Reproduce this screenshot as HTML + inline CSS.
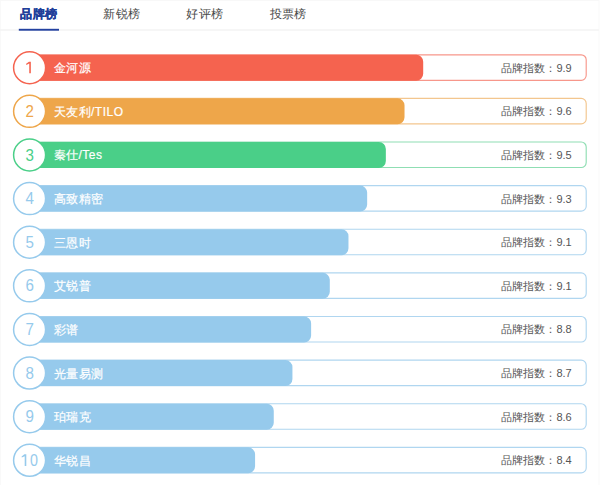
<!DOCTYPE html>
<html><head><meta charset="utf-8"><style>
html,body{margin:0;padding:0;background:#fff;}
body{width:600px;height:485px;position:relative;overflow:hidden;font-family:"Liberation Sans",sans-serif;}
svg{position:absolute;left:0;top:0;}
svg text{font-family:"Liberation Sans",sans-serif;}
</style></head><body>
<svg width="600" height="485" viewBox="0 0 600 485">
<rect x="0" y="0" width="1" height="485" fill="#f9f9f9"/>
<rect x="598.5" y="0" width="1" height="485" fill="#f9f9f9"/>
<rect x="0" y="0" width="599" height="1" fill="#f8f8f8"/>
<rect x="0" y="29.2" width="599" height="1.6" fill="#f4f4f4"/>
<rect x="18.8" y="28.8" width="40.2" height="1.9" fill="#2341a0"/>
<text x="20.3" y="18.3" font-size="12" letter-spacing="0.3" font-weight="bold" fill="#213f99" stroke="#213f99" stroke-width="0.3">品牌榜</text>
<text x="103.3" y="18.3" font-size="12" letter-spacing="0.3" fill="#484848">新锐榜</text>
<text x="186.3" y="18.3" font-size="12" letter-spacing="0.3" fill="#484848">好评榜</text>
<text x="269.8" y="18.3" font-size="12" letter-spacing="0.3" fill="#484848">投票榜</text>

<rect x="29" y="54.80" width="557.2" height="25.5" rx="5" fill="none" stroke="#f7978b" stroke-width="1.15"/>
<path d="M29 54.75 H416.20 A7 7 0 0 1 423.20 61.75 V73.75 A7 7 0 0 1 416.20 80.75 H29 Z" fill="#f5634f"/>
<circle cx="29.6" cy="67.75" r="16.0" fill="#fff" stroke="#f5634f" stroke-width="1.5"/>
<path d="M30.85 61.65 V73.35 H29.25 V63.55 L26.35 64.95 L26.15 63.85 L28.95 61.65 Z" fill="#f5634f"/>
<text x="53.5" y="72.25" font-size="12" letter-spacing="0.5" fill="#fff" stroke="#fff" stroke-width="0.2">金河源</text>
<text x="571.7" y="71.65" font-size="11" text-anchor="end" fill="#555">品牌指数：9.9</text>
<rect x="29" y="98.42" width="557.2" height="25.5" rx="5" fill="none" stroke="#f3c68e" stroke-width="1.15"/>
<path d="M29 98.37 H397.52 A7 7 0 0 1 404.52 105.37 V117.37 A7 7 0 0 1 397.52 124.37 H29 Z" fill="#eea64a"/>
<circle cx="29.6" cy="111.37" r="16.0" fill="#fff" stroke="#eea64a" stroke-width="1.5"/>
<text transform="translate(29.6 116.97) scale(0.9 1)" x="0" y="0" font-size="16.8" text-anchor="middle" fill="#eea64a">2</text>
<text x="53.5" y="115.87" font-size="12" letter-spacing="0.5" fill="#fff" stroke="#fff" stroke-width="0.2">天友利/TILO</text>
<text x="571.7" y="115.27" font-size="11" text-anchor="end" fill="#555">品牌指数：9.6</text>
<rect x="29" y="142.04" width="557.2" height="25.5" rx="5" fill="none" stroke="#8fdeb3" stroke-width="1.15"/>
<path d="M29 141.99 H378.84 A7 7 0 0 1 385.84 148.99 V160.99 A7 7 0 0 1 378.84 167.99 H29 Z" fill="#4acf88"/>
<circle cx="29.6" cy="154.99" r="16.0" fill="#fff" stroke="#4acf88" stroke-width="1.5"/>
<text transform="translate(29.6 160.59) scale(0.9 1)" x="0" y="0" font-size="16.8" text-anchor="middle" fill="#4acf88">3</text>
<text x="53.5" y="159.49" font-size="12" letter-spacing="0.5" fill="#fff" stroke="#fff" stroke-width="0.2">秦仕/Tes</text>
<text x="571.7" y="158.89" font-size="11" text-anchor="end" fill="#555">品牌指数：9.5</text>
<rect x="29" y="185.66" width="557.2" height="25.5" rx="5" fill="none" stroke="#b0d6f0" stroke-width="1.15"/>
<path d="M29 185.61 H360.16 A7 7 0 0 1 367.16 192.61 V204.61 A7 7 0 0 1 360.16 211.61 H29 Z" fill="#96caec"/>
<circle cx="29.6" cy="198.61" r="16.0" fill="#fff" stroke="#96caec" stroke-width="1.5"/>
<text transform="translate(29.6 204.21) scale(0.9 1)" x="0" y="0" font-size="16.8" text-anchor="middle" fill="#96caec">4</text>
<text x="53.5" y="203.11" font-size="12" letter-spacing="0.5" fill="#fff" stroke="#fff" stroke-width="0.2">高致精密</text>
<text x="571.7" y="202.51" font-size="11" text-anchor="end" fill="#555">品牌指数：9.3</text>
<rect x="29" y="229.28" width="557.2" height="25.5" rx="5" fill="none" stroke="#b0d6f0" stroke-width="1.15"/>
<path d="M29 229.23 H341.48 A7 7 0 0 1 348.48 236.23 V248.23 A7 7 0 0 1 341.48 255.23 H29 Z" fill="#96caec"/>
<circle cx="29.6" cy="242.23" r="16.0" fill="#fff" stroke="#96caec" stroke-width="1.5"/>
<text transform="translate(29.6 247.83) scale(0.9 1)" x="0" y="0" font-size="16.8" text-anchor="middle" fill="#96caec">5</text>
<text x="53.5" y="246.73" font-size="12" letter-spacing="0.5" fill="#fff" stroke="#fff" stroke-width="0.2">三恩时</text>
<text x="571.7" y="246.13" font-size="11" text-anchor="end" fill="#555">品牌指数：9.1</text>
<rect x="29" y="272.90" width="557.2" height="25.5" rx="5" fill="none" stroke="#b0d6f0" stroke-width="1.15"/>
<path d="M29 272.85 H322.80 A7 7 0 0 1 329.80 279.85 V291.85 A7 7 0 0 1 322.80 298.85 H29 Z" fill="#96caec"/>
<circle cx="29.6" cy="285.85" r="16.0" fill="#fff" stroke="#96caec" stroke-width="1.5"/>
<text transform="translate(29.6 291.45) scale(0.9 1)" x="0" y="0" font-size="16.8" text-anchor="middle" fill="#96caec">6</text>
<text x="53.5" y="290.35" font-size="12" letter-spacing="0.5" fill="#fff" stroke="#fff" stroke-width="0.2">艾锐普</text>
<text x="571.7" y="289.75" font-size="11" text-anchor="end" fill="#555">品牌指数：9.1</text>
<rect x="29" y="316.52" width="557.2" height="25.5" rx="5" fill="none" stroke="#b0d6f0" stroke-width="1.15"/>
<path d="M29 316.47 H304.12 A7 7 0 0 1 311.12 323.47 V335.47 A7 7 0 0 1 304.12 342.47 H29 Z" fill="#96caec"/>
<circle cx="29.6" cy="329.47" r="16.0" fill="#fff" stroke="#96caec" stroke-width="1.5"/>
<text transform="translate(29.6 335.07) scale(0.9 1)" x="0" y="0" font-size="16.8" text-anchor="middle" fill="#96caec">7</text>
<text x="53.5" y="333.97" font-size="12" letter-spacing="0.5" fill="#fff" stroke="#fff" stroke-width="0.2">彩谱</text>
<text x="571.7" y="333.37" font-size="11" text-anchor="end" fill="#555">品牌指数：8.8</text>
<rect x="29" y="360.14" width="557.2" height="25.5" rx="5" fill="none" stroke="#b0d6f0" stroke-width="1.15"/>
<path d="M29 360.09 H285.44 A7 7 0 0 1 292.44 367.09 V379.09 A7 7 0 0 1 285.44 386.09 H29 Z" fill="#96caec"/>
<circle cx="29.6" cy="373.09" r="16.0" fill="#fff" stroke="#96caec" stroke-width="1.5"/>
<text transform="translate(29.6 378.69) scale(0.9 1)" x="0" y="0" font-size="16.8" text-anchor="middle" fill="#96caec">8</text>
<text x="53.5" y="377.59" font-size="12" letter-spacing="0.5" fill="#fff" stroke="#fff" stroke-width="0.2">光量易测</text>
<text x="571.7" y="376.99" font-size="11" text-anchor="end" fill="#555">品牌指数：8.7</text>
<rect x="29" y="403.76" width="557.2" height="25.5" rx="5" fill="none" stroke="#b0d6f0" stroke-width="1.15"/>
<path d="M29 403.71 H266.76 A7 7 0 0 1 273.76 410.71 V422.71 A7 7 0 0 1 266.76 429.71 H29 Z" fill="#96caec"/>
<circle cx="29.6" cy="416.71" r="16.0" fill="#fff" stroke="#96caec" stroke-width="1.5"/>
<text transform="translate(29.6 422.31) scale(0.9 1)" x="0" y="0" font-size="16.8" text-anchor="middle" fill="#96caec">9</text>
<text x="53.5" y="421.21" font-size="12" letter-spacing="0.5" fill="#fff" stroke="#fff" stroke-width="0.2">珀瑞克</text>
<text x="571.7" y="420.61" font-size="11" text-anchor="end" fill="#555">品牌指数：8.6</text>
<rect x="29" y="447.38" width="557.2" height="25.5" rx="5" fill="none" stroke="#b0d6f0" stroke-width="1.15"/>
<path d="M29 447.33 H248.08 A7 7 0 0 1 255.08 454.33 V466.33 A7 7 0 0 1 248.08 473.33 H29 Z" fill="#96caec"/>
<circle cx="29.6" cy="460.33" r="16.0" fill="#fff" stroke="#96caec" stroke-width="1.5"/>
<path d="M26.30 454.23 V465.93 H24.70 V456.13 L21.80 457.53 L21.60 456.43 L24.40 454.23 Z" fill="#96caec"/>
<text transform="translate(34.0 465.93) scale(0.85 1)" x="0" y="0" font-size="16.8" text-anchor="middle" fill="#96caec">0</text>
<text x="53.5" y="464.83" font-size="12" letter-spacing="0.5" fill="#fff" stroke="#fff" stroke-width="0.2">华锐昌</text>
<text x="571.7" y="464.23" font-size="11" text-anchor="end" fill="#555">品牌指数：8.4</text>
</svg>
</body></html>
